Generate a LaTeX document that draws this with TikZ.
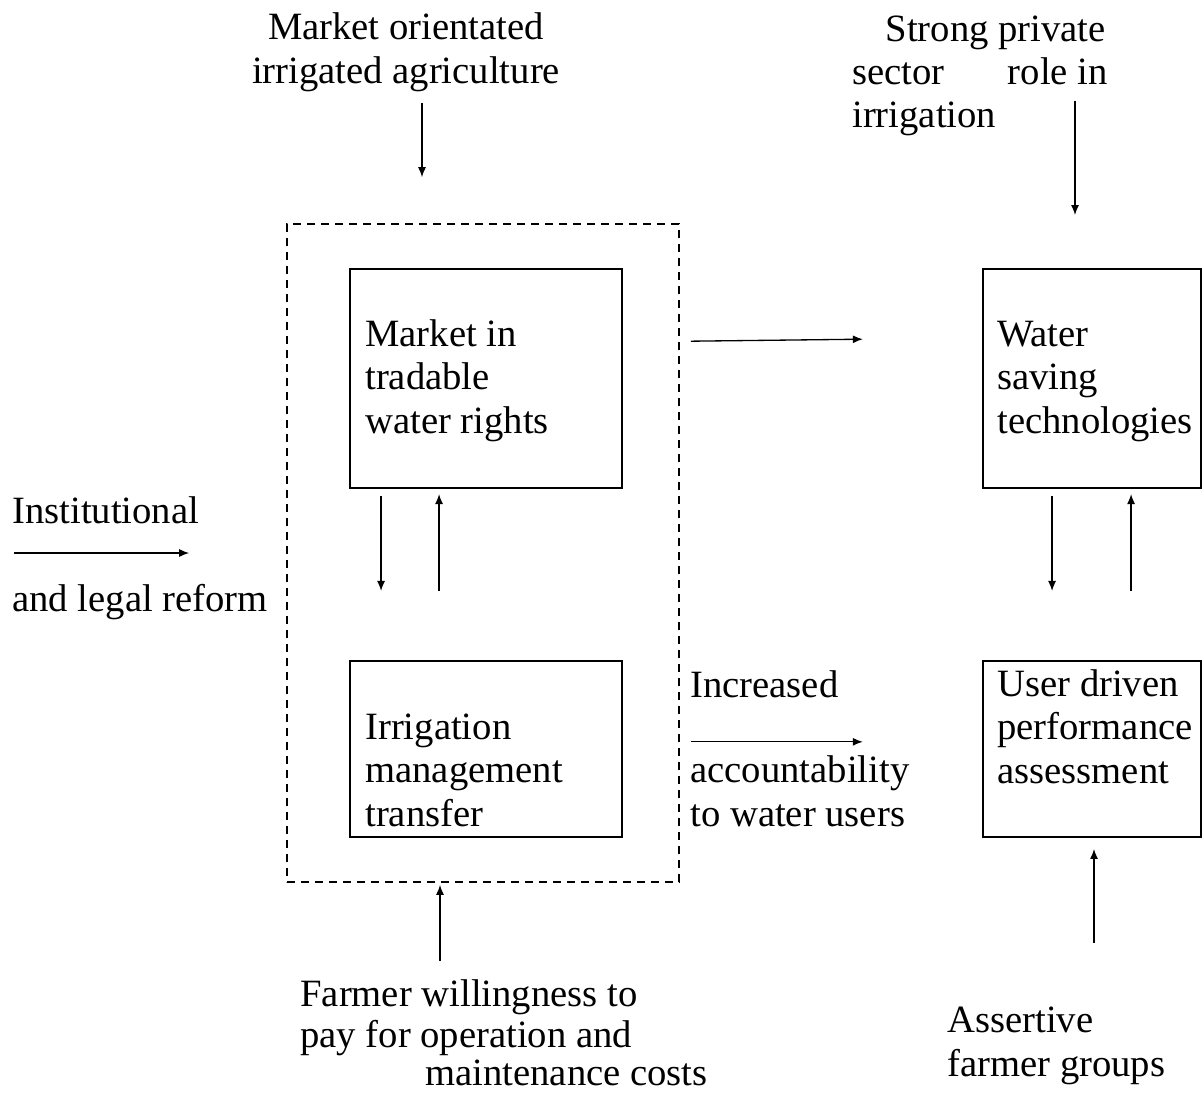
\documentclass[tikz,border=0pt]{standalone}
\usepackage{fontspec}
\setmainfont{Liberation Serif}
\usepackage{tikz}
\usetikzlibrary{calc,arrows.meta}

\tikzset{
    txt/.style={inner sep=0pt, anchor=base west, align=left, font=\fontsize{22}{24.5}\selectfont},
    box/.style={draw, line width=1.1pt, inner sep=0pt},
    arr/.style={-{Latex[length=2mm,width=1.6mm]}, line width=0.75pt},
}

\begin{document}
\begin{tikzpicture}[x=0.02cm, y=-0.02cm]
    \useasboundingbox (0,0) rectangle (1202,1092);
    \node[draw, dashed, line width=1pt, dash pattern=on 0.16cm off 0.12cm, minimum width=7.84cm, minimum height=13.16cm] (zone) at (483,553) {};
    \node[box, minimum width=5.44cm, minimum height=4.38cm] (mkt) at (486,378.5) {};
    \node[box, minimum width=5.44cm, minimum height=3.52cm] (imt) at (486,749) {};
    \node[box, minimum width=4.36cm, minimum height=4.38cm] (wst) at (1092,378.5) {};
    \node[box, minimum width=4.36cm, minimum height=3.52cm] (uda) at (1092,749) {};
    % multi-line texts sit on their last line
    \node[txt] (mkttxt) at (365,433) {Market in\\tradable\\water rights};
    \node[txt] (imttxt) at (365,826) {Irrigation\\management\\transfer};
    \node[txt] (wsttxt) at (997,433) {Water\\saving\\technologies};
    \node[txt] (udatxt) at (997,783) {User driven\\performance\\assessment};
    \node[txt, anchor=base, align=center] (market) at (406,83) {Market orientated\\irrigated agriculture};
    \node[txt, anchor=base east] (strong) at (1106,41) {Strong private};
    \node[txt] (sector) at (852,84) {sector};
    \node[txt, anchor=base east] (role) at (1108,84) {role in};
    \node[txt] (irrig) at (852,127) {irrigation};
    \node[txt] (inst) at (12,523) {Institutional};
    \node[txt] (legal) at (12,611) {and legal reform};
    \node[txt] (incr) at (690,697) {Increased};
    \node[txt] (acc) at (690,826) {accountability\\to water users};
    \node[txt] (farmer) at (300,1006) {Farmer willingness to};
    \node[txt] (pay) at (300,1047) {pay for operation and};
    \node[txt] (maint) at (425,1085) {maintenance costs};
    \node[txt] (assert) at (947,1076) {Assertive\\farmer groups};
    \draw[arr] ($(zone.north)+(-61,-120)$) -- ++(0,74);
    \draw[arr] ($(wst.north)+(-17,-167)$) -- ++(0,114);
    \draw[arr] ($(mkt.south west)+(32,7)$) -- ++(0,95);
    \draw[arr] ($(imt.north west)+(90,-69)$) -- ++(0,-97);
    \draw[arr] ($(wst.south west)+(70,7)$) -- ++(0,95);
    \draw[arr] ($(uda.north west)+(149,-69)$) -- ++(0,-97);
    \draw[arr] ($(zone.north east)+(11,118)$) -- ++(172,-2);
    \draw[arr] ($(zone.south east)+(11,-141)$) -- ++(172,0);
    \draw[arr] ($(zone.west)+(-272,0)$) -- ++(175,0);
    \draw[arr] ($(zone.south)+(-43,78)$) -- ++(0,-76);
    \draw[arr] ($(uda.south)+(2,105)$) -- ++(0,-94);
\end{tikzpicture}
\end{document}
